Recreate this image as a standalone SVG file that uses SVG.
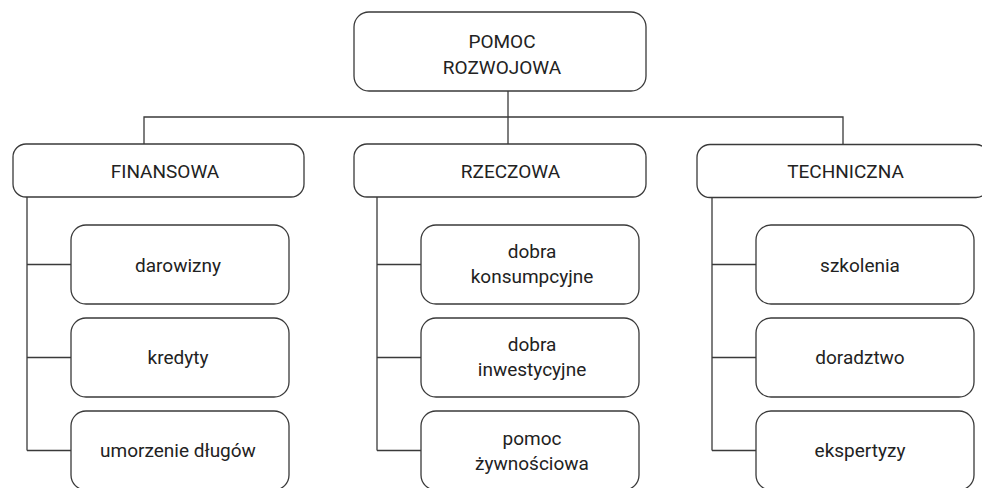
<svg xmlns="http://www.w3.org/2000/svg" width="982" height="488" viewBox="0 0 982 488">
<style>
.box{fill:#fff;stroke:#3a3a3a;stroke-width:1.3}
.ln{fill:none;stroke:#3a3a3a;stroke-width:1.3}
text{font-family:Roboto,"Liberation Sans",sans-serif;font-size:19px;fill:#222;text-anchor:middle}
</style>
<rect width="982" height="488" fill="#fff"/>
<g id="connectors">
<path class="ln" d="M508 91V144M144 144V117H843V144"/>
<path class="ln" d="M27 197V450.5M27 264.5H71M27 357.5H71M27 450.5H71"/>
<path class="ln" d="M377 197V450.5M377 264.5H421M377 357.5H421M377 450.5H421"/>
<path class="ln" d="M712 198V450.5M712 264.5H756M712 357.5H756M712 450.5H756"/>
</g>
<g id="root"><rect class="box" x="354" y="12" width="292" height="79" rx="15"/><text x="502" y="48">POMOC</text><text x="502" y="74">ROZWOJOWA</text></g>
<g id="finansowa"><rect class="box" x="13" y="144" width="291" height="53" rx="13"/><text x="165" y="178">FINANSOWA</text></g>
<g id="rzeczowa"><rect class="box" x="354" y="144" width="292" height="53" rx="13"/><text x="510.5" y="178">RZECZOWA</text></g>
<g id="techniczna"><rect class="box" x="697" y="144.5" width="292" height="53" rx="13"/><text x="845.5" y="178">TECHNICZNA</text></g>
<g id="darowizny"><rect class="box" x="71" y="225" width="218" height="79" rx="15"/><text x="178" y="271.5">darowizny</text></g>
<g id="kredyty"><rect class="box" x="71" y="318" width="218" height="79" rx="15"/><text x="178" y="364">kredyty</text></g>
<g id="umorzenie"><rect class="box" x="71" y="411" width="218" height="79" rx="15"/><text x="178" y="457">umorzenie długów</text></g>
<g id="konsumpcyjne"><rect class="box" x="421" y="225" width="218" height="79" rx="15"/><text x="532" y="258">dobra</text><text x="532" y="283">konsumpcyjne</text></g>
<g id="inwestycyjne"><rect class="box" x="421" y="318" width="218" height="79" rx="15"/><text x="532" y="351">dobra</text><text x="532" y="376">inwestycyjne</text></g>
<g id="zywnosciowa"><rect class="box" x="421" y="411" width="218" height="79" rx="15"/><text x="532" y="445">pomoc</text><text x="532" y="469.5">żywnościowa</text></g>
<g id="szkolenia"><rect class="box" x="756" y="225" width="218" height="79" rx="15"/><text x="860" y="271.5">szkolenia</text></g>
<g id="doradztwo"><rect class="box" x="756" y="318" width="218" height="79" rx="15"/><text x="860" y="364">doradztwo</text></g>
<g id="ekspertyzy"><rect class="box" x="756" y="411" width="218" height="79" rx="15"/><text x="860" y="457">ekspertyzy</text></g>
</svg>
